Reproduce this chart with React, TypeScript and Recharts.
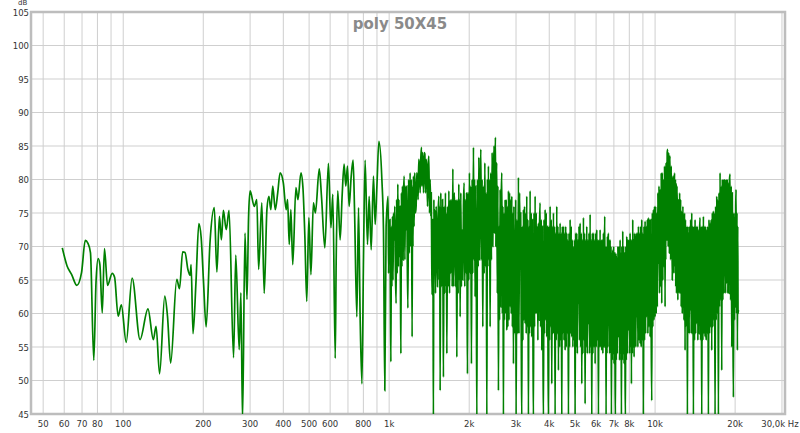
import React from "react";
import { LineChart, Line, XAxis, YAxis, CartesianGrid, ReferenceArea } from "recharts";

// grid / tick positions
const FREQ_TICKS = [50, 60, 70, 80, 90, 100, 200, 300, 400, 500, 600, 700, 800, 900, 1000, 2000, 3000, 4000, 5000, 6000, 7000, 8000, 9000, 10000, 20000, 30000];
const FREQ_LABELS = ["50", "60", "70", "80", "", "100", "200", "300", "400", "500", "600", "", "800", "", "1k", "2k", "3k", "4k", "5k", "6k", "7k", "8k", "", "10k", "20k", "30,0k Hz"];
const DB_TICKS = [45, 50, 55, 60, 65, 70, 75, 80, 85, 90, 95, 100, 105];

const bassFreq = [59, 61.5, 64, 66.9, 69.7, 72, 73.6, 75.3, 77.5, 79, 80.5, 81.7, 83.4, 85, 87.3, 90.9, 92.8, 95.7, 98.4, 102.6, 108, 115.7, 123.9, 129.8, 132.9, 137, 143.3, 146.7, 150.8, 159, 162.8, 167.3, 170.8, 175, 178.5, 180, 183, 187.8, 192.5, 196.4, 200.5, 205, 212, 220, 225, 230, 234, 238, 244, 250, 260, 265, 273, 277, 281, 287, 292, 296, 300];
const bassDb = [69.8, 67.1, 65.8, 64.2, 66.1, 70.9, 70.5, 69.1, 53.0, 64.6, 68.2, 67.3, 60.1, 69.7, 64.2, 66.0, 65.4, 59.6, 61.3, 55.7, 65.3, 56.1, 60.7, 56.1, 58.1, 51.0, 62.6, 59.6, 52.6, 65.1, 63.7, 69.2, 69.1, 66.6, 65.7, 67.3, 57.0, 64.8, 73.4, 71.3, 64.6, 58.0, 70.6, 75.8, 66.2, 74.5, 71.0, 75.4, 72.5, 75.4, 53.4, 68.7, 54.6, 63.1, 44, 72.0, 62.1, 74.3, 78.3];

const lowMidFreq = [311, 318, 323, 332, 339, 347, 353, 359, 365, 373, 381];
const lowMidDb = [76.0, 77.0, 66.6, 76.5, 63.0, 75.5, 77.5, 75.5, 79.0, 75.5, 78.0];

const midFreq = [389, 400, 410, 415, 421, 427, 434, 446, 454, 466, 474, 482, 490, 499, 508, 519, 528, 546, 557, 573, 591, 604, 614, 627, 632, 641, 654, 666, 677, 687, 697, 707, 720, 732, 741, 756, 767, 778, 790, 801, 812, 829, 841, 856, 873, 886, 899, 915];
const midDb = [81.0, 79.5, 75.5, 77.0, 70.3, 75.5, 67.3, 78.8, 77.0, 81.0, 78.8, 71.5, 61.8, 74.3, 65.8, 76.5, 75.0, 81.6, 77.3, 69.8, 82.4, 72.8, 77.8, 53.3, 67.5, 78.3, 71.0, 77.8, 82.3, 79.0, 82.0, 76.0, 80.5, 82.9, 75.5, 59.5, 75.8, 59.3, 49.5, 68.5, 82.9, 70.3, 77.5, 69.5, 80.5, 73.3, 78.8, 85.7];

const upperMidFreq = [939, 952, 963, 974, 991, 995, 999, 1003, 1007, 1011, 1015, 1020, 1024, 1029, 1034, 1039, 1044, 1050, 1056, 1062, 1067, 1072, 1078, 1083, 1088, 1093, 1098, 1102, 1107, 1112, 1117, 1122, 1128, 1133, 1139, 1146, 1152, 1159, 1165, 1170, 1176, 1184, 1191, 1199, 1206, 1213, 1220, 1225, 1229, 1234, 1241, 1248, 1256, 1263, 1270, 1278, 1285, 1292, 1300, 1308, 1315, 1323, 1328, 1334, 1339, 1347, 1354, 1362, 1370, 1378, 1386, 1394, 1402, 1410, 1418, 1426, 1435, 1440, 1446, 1451, 1456, 1462, 1467, 1473, 1479, 1485, 1494, 1502, 1511, 1520, 1529, 1538, 1544, 1549, 1555, 1564, 1573, 1582, 1588, 1594, 1600, 1609, 1619, 1628, 1635, 1641, 1648, 1658, 1667, 1677, 1687, 1696, 1706, 1716, 1726, 1736, 1746, 1756, 1766, 1776, 1786, 1797, 1807, 1818, 1828, 1835, 1842, 1849, 1860, 1870, 1881, 1892, 1903, 1914, 1925, 1937, 1948, 1955, 1963, 1970, 1981, 1993, 2004, 2016, 2027, 2039, 2051, 2063, 2075, 2085, 2095, 2105, 2116, 2126, 2137, 2149, 2162, 2174, 2187, 2199, 2212, 2225, 2237, 2250, 2263, 2277, 2290, 2303, 2317, 2330, 2341, 2351, 2362, 2374, 2385, 2397, 2411, 2425, 2439, 2453, 2467, 2481, 2491, 2500, 2510, 2520, 2529];
const upperMidDb = [80, 72.5, 48.5, 73, 77.5, 66, 74, 68.5, 74, 63, 52.8, 73, 64, 74.5, 65, 75, 71, 76, 66, 61.5, 77, 66, 79.3, 67, 77, 68.5, 76, 66, 54, 78, 67, 79, 68, 78, 80.5, 68, 79, 72.5, 79, 68, 60.8, 80, 69, 81, 70, 80, 56.5, 79, 70, 80.5, 73, 81, 75, 76, 81, 80, 77, 83, 82, 78, 83, 84.8, 79, 84, 82.5, 78, 84, 83.8, 78, 83, 81.5, 76, 82, 83.5, 75, 80, 74.5, 78, 68, 62.8, 74, 66, 44, 77, 66, 75.5, 63, 76, 72, 64, 75, 77.5, 65, 76, 48.5, 78, 64, 71.5, 77, 64, 50.5, 76, 63, 78, 64, 75, 54, 76, 64, 78.3, 63, 77, 66, 77, 64, 81.6, 64, 78, 75, 64, 77, 53.5, 77, 63, 79.3, 65, 77, 59.5, 78, 64, 72.5, 65, 76, 79.5, 64, 77, 66, 78, 65, 51, 78, 65, 81, 66, 79, 52.5, 80, 66, 84.8, 68, 80, 62.5, 79, 67, 44, 80, 67, 83.3, 68, 79, 84.5, 68, 80, 58, 79, 66, 82.5, 67, 78, 44, 80, 67, 82, 68, 80, 58, 81, 68, 84, 70, 81, 85, 72, 82, 86.3, 70, 80];

const presenceFreq = [2539, 2551, 2564, 2576, 2589, 2601, 2614, 2627, 2639, 2652, 2665, 2677, 2690, 2703, 2716, 2729, 2742, 2755, 2769, 2782, 2795, 2809, 2823, 2836, 2850, 2864, 2878, 2892, 2906, 2920, 2934, 2945, 2957, 2968, 2979, 2991, 3002, 3022, 3043, 3063, 3078, 3093, 3108, 3123, 3138, 3153, 3168, 3184, 3199, 3214, 3230, 3245, 3261, 3276, 3292, 3308, 3324, 3340, 3356, 3373, 3389, 3405, 3422, 3438, 3455, 3471, 3488, 3505, 3522, 3539, 3556, 3573, 3590, 3607, 3625, 3642, 3660, 3677, 3695, 3713, 3731, 3749, 3767, 3786, 3804, 3822, 3841, 3859, 3878, 3896, 3915, 3934, 3953, 3972, 3991, 4011, 4030, 4049, 4069, 4088, 4108, 4128, 4148, 4168, 4188, 4208, 4228, 4249, 4269, 4290, 4310, 4331, 4352, 4373, 4394, 4415, 4437, 4458, 4480, 4501, 4523, 4545, 4567, 4589, 4611, 4633, 4655, 4678, 4700, 4723, 4746, 4769, 4792, 4815, 4838, 4861, 4885, 4908, 4932, 4956, 4980, 5004, 5028, 5052, 5076, 5101, 5125, 5150, 5175, 5200, 5225, 5250, 5276, 5301, 5327, 5352, 5378, 5404, 5430, 5456, 5482, 5509, 5535, 5562, 5589, 5616, 5643, 5671, 5698, 5725, 5753, 5780, 5808, 5836, 5864, 5893, 5921, 5950, 5979, 6007, 6036, 6065, 6095, 6124, 6153, 6183];
const presenceDb = [82.5, 63, 79, 48.5, 73, 59, 78.5, 61, 77, 81, 60, 76, 44, 75, 59, 77, 60, 77, 57.5, 76, 58, 78.3, 59, 78, 61, 77, 60, 77.5, 58, 75, 52.5, 76, 57, 71, 59, 77, 44, 74, 57, 80.3, 57, 78, 69.5, 75, 58, 44, 73, 56, 75.5, 59, 76, 58.5, 75, 57, 77.5, 58, 74, 44, 73, 57, 78.3, 58, 75, 56.5, 74, 59, 44, 75, 58, 77.5, 60, 75, 60, 73, 56, 73.5, 59, 73, 76.5, 58, 74, 54.5, 73, 57, 44, 74, 57, 75.5, 59, 75, 56.5, 73, 58, 44, 73, 56, 76, 58, 74, 49.5, 73, 57, 75, 57, 73, 44, 72, 56, 76, 57, 73, 51.5, 72, 55, 73.5, 56, 72, 44, 73, 57, 73, 56, 72, 54.5, 73, 55, 72, 57, 71, 44, 72, 55, 74, 57, 73, 56.5, 71, 55, 70, 56, 71, 44, 72, 55, 72, 54, 71, 61.5, 73, 56, 73.5, 55, 72, 49.5, 71, 54, 74.3, 56, 72, 46.5, 71, 55, 73, 54, 71, 58.5, 72, 54, 74.8, 55, 71, 44, 72, 54, 72, 55, 71, 52.5, 72, 55, 72.5, 56, 71, 44, 71, 55];

const trebleFreq = [6212, 6242, 6272, 6302, 6333, 6363, 6394, 6419, 6443, 6468, 6493, 6518, 6543, 6568, 6594, 6619, 6645, 6670, 6696, 6722, 6748, 6774, 6800, 6826, 6852, 6879, 6905, 6932, 6959, 6985, 7012, 7039, 7067, 7094, 7121, 7149, 7176, 7211, 7246, 7281, 7316, 7352, 7387, 7415, 7444, 7472, 7501, 7530, 7559, 7588, 7617, 7646, 7676, 7705, 7735, 7765, 7795, 7825, 7863, 7901, 7939, 7977, 8016, 8054, 8085, 8117, 8148, 8179, 8211, 8242, 8274, 8306, 8338, 8370, 8403, 8435, 8468, 8500, 8533, 8574, 8616, 8657, 8699, 8741, 8783, 8825, 8868, 8910, 8953, 8997, 9040, 9084, 9127, 9171, 9216, 9260, 9305, 9350, 9395, 9440, 9486, 9531, 9577, 9623, 9670, 9716, 9763, 9811, 9858, 9906, 9953, 10001, 10049, 10098, 10146, 10195, 10245, 10294, 10344, 10393, 10443, 10494, 10545, 10595, 10646, 10698, 10749, 10801, 10853, 10905, 10937, 10968, 11000, 11053, 11106, 11159, 11202, 11246, 11289, 11322, 11355, 11388, 11443, 11497];
const trebleDb = [72.5, 55, 71, 54.5, 71, 54, 72, 55, 69, 74.5, 55, 70, 44, 70, 54, 71.5, 55, 72, 62, 71, 54, 71, 55, 70, 44, 69, 53, 69.5, 54, 70, 52.5, 69, 54, 44, 69, 53, 68.5, 54, 70, 56.5, 70, 53, 71, 54, 69, 44, 70, 53, 72.3, 54, 70, 52.5, 69, 54, 44, 70, 53, 71.5, 54, 71, 57.5, 71, 54, 72, 55, 71, 49.5, 71, 54, 74, 55, 71, 53.5, 72, 55, 71.5, 55, 72, 59.5, 72, 55, 73, 56, 72, 55.5, 73, 55, 74, 56, 72, 44, 73, 56, 73.8, 57, 73, 59.5, 74, 57, 74.3, 58, 74, 56.5, 74, 57, 47, 75, 58, 75.5, 59, 76, 59.5, 76, 60, 75, 61, 78, 67.5, 79, 63, 78.5, 64, 81, 61.5, 81, 65, 80, 67, 82, 61, 82, 68, 82.5, 71, 84, 84.5, 70, 84, 77.5, 69, 83, 83.5, 68, 82];

const airFreq = [11552, 11608, 11664, 11720, 11777, 11834, 11891, 11925, 11960, 11994, 12040, 12087, 12133, 12180, 12227, 12274, 12322, 12369, 12417, 12477, 12537, 12597, 12658, 12720, 12781, 12843, 12904, 12966, 13004, 13041, 13079, 13129, 13180, 13230, 13281, 13333, 13384, 13436, 13488, 13540, 13606, 13671, 13737, 13804, 13870, 13937, 14004, 14071, 14138, 14207, 14275, 14344, 14413, 14483, 14552, 14623, 14693, 14764, 14835, 14907, 14978, 15051, 15123, 15196, 15270, 15343, 15417, 15492, 15566, 15641, 15717, 15792, 15868, 15945, 16022, 16099, 16177, 16255, 16333, 16412, 16491, 16570, 16650, 16730, 16811, 16893, 16974, 17056, 17139, 17221, 17304, 17388, 17471, 17555, 17640, 17725, 17810, 17896, 17983, 18069, 18157, 18244, 18332, 18421, 18510, 18598, 18688, 18779, 18869, 18960, 19052, 19143, 19236, 19329, 19421, 19515, 19610, 19704, 19799, 19895, 19990, 20048, 20106, 20163, 20241, 20319, 20397, 20456, 20516, 20575];
const airDb = [75.5, 65, 80, 80.5, 66, 81, 67, 80, 64, 79.5, 63, 79, 74.5, 62, 77, 76, 63, 78, 63, 77, 61, 75.3, 60, 76, 68.5, 59, 75, 54.5, 74, 58, 72.5, 58, 73, 44, 73, 57, 72, 57, 73, 60.5, 74, 57, 75, 57, 73, 44, 73, 56, 74, 57, 73, 58.5, 73, 56, 72.5, 57, 72, 74.3, 56, 73, 44, 73, 56, 74.5, 57, 73, 56.5, 73, 56, 72.5, 57, 73, 44, 74, 57, 73.5, 58, 74, 54.5, 75, 58, 75.3, 59, 75, 44, 76, 59, 77.5, 60, 77, 44, 78, 61, 81, 62, 79, 51.5, 80, 62, 80, 63, 80, 78.5, 63, 80, 64.5, 80, 63, 79.5, 63, 80, 80.8, 62, 79, 55, 78, 60, 47.5, 75, 59, 74.5, 61, 76, 78.5, 60, 75, 54.5, 73, 60, 60.5];

const bands: [number[], number[]][] = [
  [bassFreq, bassDb],
  [lowMidFreq, lowMidDb],
  [midFreq, midDb],
  [upperMidFreq, upperMidDb],
  [presenceFreq, presenceDb],
  [trebleFreq, trebleDb],
  [airFreq, airDb],
];

const data = bands.flatMap(([fs, ds]) => fs.map((f, i) => ({ f, db: ds[i] })));

const FONT = "DejaVu Sans";

const XTick = (props: any) => {
  const { x, y, payload } = props;
  const idx = FREQ_TICKS.indexOf(payload.value);
  const label = idx >= 0 ? FREQ_LABELS[idx] : "";
  if (!label) return null;
  const isLast = payload.value === 30000;
  return (
    <text x={isLast ? x - 2 : x} y={y + 13} textAnchor="middle" fontSize={8.5} fontFamily={FONT} fill="#333">
      {label}
    </text>
  );
};

const YTick = (props: any) => {
  const { x, y, payload } = props;
  return (
    <text x={x} y={y + 3.5} textAnchor="end" fontSize={8.5} fontFamily={FONT} fill="#333">
      {payload.value}
    </text>
  );
};

export default function App() {
  return (
    <div style={{ position: "absolute", left: 0, top: 0, width: 800, height: 433, background: "#fff" }}>
      <LineChart width={800} height={433} data={data} margin={{ top: 12, right: 15, bottom: 0, left: 0 }}>
        <CartesianGrid stroke="#cfcfcf" strokeWidth={1} />
        <XAxis
          dataKey="f"
          type="number"
          scale="log"
          domain={[45, 30800]}
          allowDataOverflow
          ticks={FREQ_TICKS}
          interval={0}
          height={19}
          tickSize={0}
          tickMargin={0}
          axisLine={false}
          tickLine={false}
          tick={<XTick />}
        />
        <YAxis
          type="number"
          domain={[45, 105]}
          allowDataOverflow
          ticks={DB_TICKS}
          interval={0}
          width={31}
          tickSize={0}
          tickMargin={2}
          axisLine={false}
          tickLine={false}
          tick={<YTick />}
        />
        <Line
          type="monotoneX"
          dataKey="db"
          stroke="#008000"
          strokeWidth={1.7}
          dot={false}
          isAnimationActive={false}
        />
        <ReferenceArea x1={45} x2={30800} y1={45} y2={105} fill="none" stroke="#bdbdbd" strokeWidth={2.5} ifOverflow="visible" />
      </LineChart>
      <div
        style={{
          position: "absolute",
          left: 0,
          top: 17,
          width: 800,
          textAlign: "center",
          fontFamily: FONT,
          fontWeight: "bold",
          fontSize: 15,
          lineHeight: "15px",
          color: "#8a8a8a",
        }}
      >
        poly 50X45
      </div>
      <div
        style={{
          position: "absolute",
          left: 18,
          top: 0,
          fontFamily: FONT,
          fontSize: 7,
          lineHeight: "7px",
          color: "#333",
        }}
      >
        dB
      </div>
    </div>
  );
}
